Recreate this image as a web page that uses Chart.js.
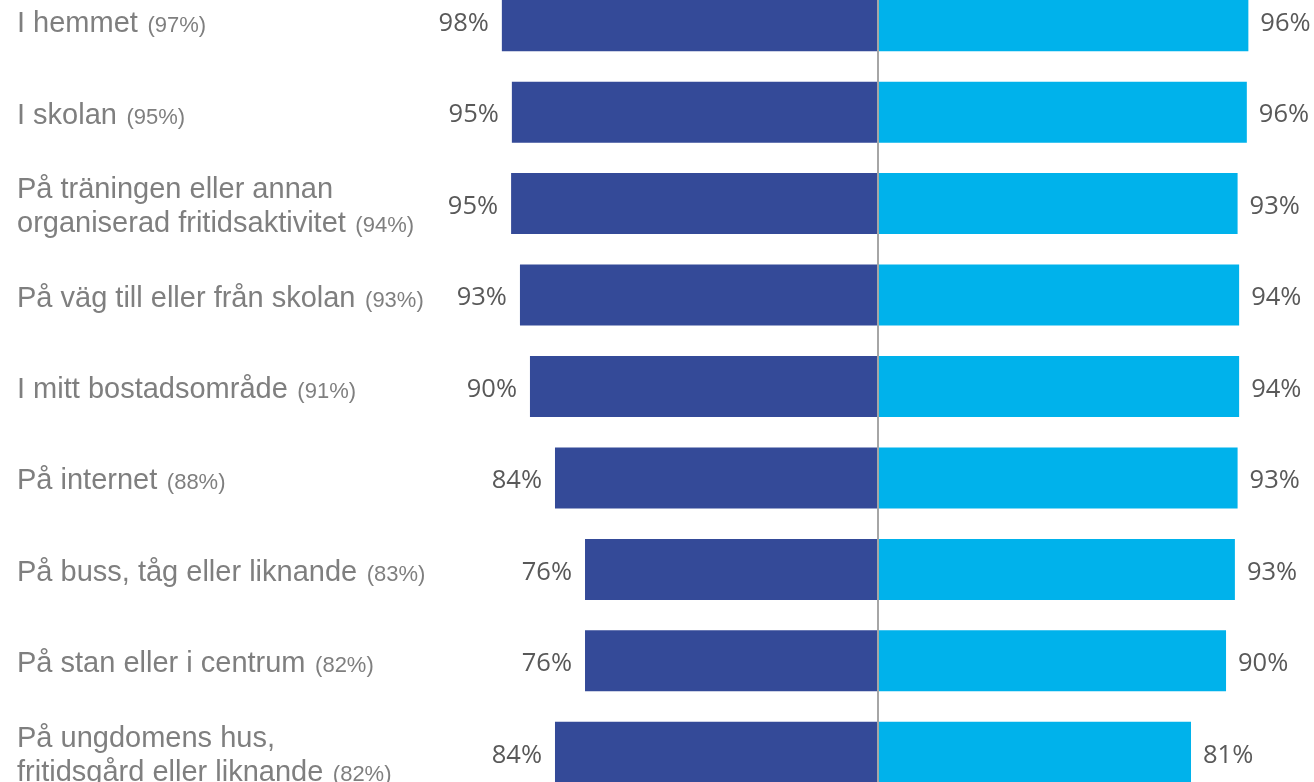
<!DOCTYPE html>
<html>
<head>
<meta charset="utf-8">
<script src="https://cdn.jsdelivr.net/npm/chart.js@4/dist/chart.umd.min.js"></script>
<style>
  html, body { margin: 0; padding: 0; background: #fff; overflow: hidden; }
  #wrap { position: absolute; left: 0; top: -25px; width: 1314px; height: 823px; }
</style>
</head>
<body>
<div id="wrap"><canvas id="butterfly"></canvas></div>
<script>
const categories = [
    ['I hemmet'],
    ['I skolan'],
    ['På träningen eller annan', 'organiserad fritidsaktivitet'],
    ['På väg till eller från skolan'],
    ['I mitt bostadsområde'],
    ['På internet'],
    ['På buss, tåg eller liknande'],
    ['På stan eller i centrum'],
    ['På ungdomens hus,', 'fritidsgård eller liknande']
];
const totals = [97, 95, 94, 93, 91, 88, 83, 82, 82];
const leftValues = [97.7, 95.1, 95.3, 93.0, 90.4, 83.9, 76.1, 76.1, 83.9];
const rightValues = [96.2, 95.8, 93.4, 93.8, 93.8, 93.4, 92.7, 90.4, 81.3];

// labels for categories and values, drawn off the scales
const labelPlugin = {
    id: 'labelPlugin',
    afterDatasetsDraw(chart) {
        const ctx = chart.ctx;
        const xs = chart.scales.x, ys = chart.scales.y;

        // center line
        const x0 = Math.round(xs.getPixelForValue(0));
        ctx.save();
        ctx.strokeStyle = '#a6a6a6';
        ctx.lineWidth = 2;
        ctx.beginPath();
        ctx.moveTo(x0, 0);
        ctx.lineTo(x0, chart.height);
        ctx.stroke();

        // value labels
        ctx.font = '25.5px "Open Sans"';
        ctx.fillStyle = '#595959';
        ctx.textBaseline = 'middle';
        categories.forEach((c, i) => {
            const y = ys.getPixelForValue(i) + 3;
            ctx.textAlign = 'right';
            ctx.fillText(Math.round(leftValues[i]) + '%', xs.getPixelForValue(-leftValues[i]) - 13, y);
            ctx.textAlign = 'left';
            ctx.fillText(Math.round(rightValues[i]) + '%', xs.getPixelForValue(rightValues[i]) + 12, y);
        });

        // category labels
        ctx.textAlign = 'left';
        ctx.textBaseline = 'alphabetic';
        ctx.fillStyle = '#7f7f7f';
        categories.forEach((lines, i) => {
            const y = ys.getPixelForValue(i);
            const base = lines.length === 1 ? [y + 11.5] : [y - 5.5, y + 28.5];
            lines.forEach((txt, j) => {
                ctx.font = '29px "Liberation Sans", Arial';
                ctx.fillText(txt, 17, base[j]);
                if (j === lines.length - 1) {
                    const w = ctx.measureText(txt + ' ').width + 1.5;
                    ctx.font = '22px "Liberation Sans", Arial';
                    ctx.fillText('(' + totals[i] + '%)', 17 + w, base[j]);
                }
            });
        });
        ctx.restore();
    }
};

const ctxBar = document.getElementById('butterfly').getContext('2d');
new Chart(ctxBar, {
    type: 'bar',
    data: {
        labels: categories.map(c => c.join(' ')),
        datasets: [
            {
                data: leftValues.map(v => -v),
                backgroundColor: '#344a98',
                barPercentage: 0.667,
                categoryPercentage: 1
            },
            {
                data: rightValues,
                backgroundColor: '#00b2eb',
                barPercentage: 0.667,
                categoryPercentage: 1
            }
        ]
    },
    options: {
        indexAxis: 'y',
        responsive: true,
        maintainAspectRatio: false,
        animation: false,
        layout: { padding: { left: 454.5, right: 12.5, top: 0, bottom: 0 } },
        plugins: { legend: { display: false }, tooltip: { enabled: false } },
        scales: {
            x: { stacked: true, min: -110, max: 110, display: false },
            y: { stacked: true, display: false }
        }
    },
    plugins: [labelPlugin]
});
</script>
</body>
</html>
